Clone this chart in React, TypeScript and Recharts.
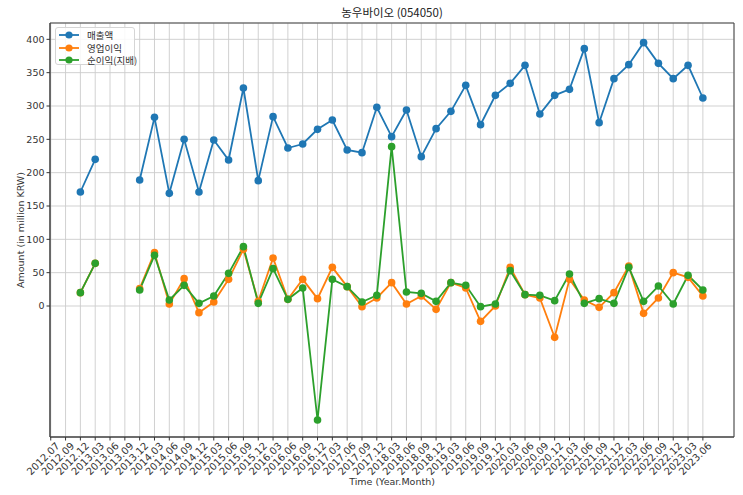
import React from "react";
import {
  LineChart,
  Line,
  XAxis,
  YAxis,
  CartesianGrid,
  ReferenceArea,
} from "recharts";

const categories = [
  "2012.07", "2012.09", "2012.12", "2013.03", "2013.06", "2013.09", "2013.12",
  "2014.03", "2014.06", "2014.09", "2014.12", "2015.03", "2015.06", "2015.09",
  "2015.12", "2016.03", "2016.06", "2016.09", "2016.12", "2017.03", "2017.06",
  "2017.09", "2017.12", "2018.03", "2018.06", "2018.09", "2018.12", "2019.03",
  "2019.06", "2019.09", "2019.12", "2020.03", "2020.06", "2020.09", "2020.12",
  "2021.03", "2021.06", "2021.09", "2021.12", "2022.03", "2022.06", "2022.09",
  "2022.12", "2023.03", "2023.06",
];

// 매출액
const revenue = [
  null, null, 171, 220, null, null, 189, 283, 169, 250, 171, 249, 219, 327, 188,
  284, 237, 243, 265, 279, 234, 230, 298, 254, 294, 224, 266, 292, 331, 272,
  316, 334, 361, 288, 316, 325, 386, 275, 341, 362, 395, 364, 341, 361, 312,
];

// 영업이익
const operatingProfit = [
  null, null, 20, 64, null, null, 26, 80, 3, 41, -10, 6, 40, 85, 7,
  72, 10, 40, 11, 58, 29, -1, 12, 35, 3, 15, -5, 35, 27, -23,
  0, 58, 17, 12, -47, 40, 9, -2, 20, 60, -11, 12, 50, 43, 15,
];

// 순이익(지배)
const netIncome = [
  null, null, 20, 64, null, null, 24, 76, 9, 31, 4, 15, 49, 89, 4,
  56, 10, 27, -171, 40, 29, 6, 16, 239, 21, 19, 7, 35, 31, -1,
  3, 53, 17, 16, 8, 48, 4, 11, 4, 58, 7, 30, 3, 46, 24,
];

const yTicks = [0, 50, 100, 150, 200, 250, 300, 350, 400];

const series = [
  { key: "revenue", name: "매출액", color: "#1f77b4" },
  { key: "operatingProfit", name: "영업이익", color: "#ff7f0e" },
  { key: "netIncome", name: "순이익(지배)", color: "#2ca02c" },
];

const data = categories.map((label, i) => ({
  idx: i,
  label,
  revenue: revenue[i],
  operatingProfit: operatingProfit[i],
  netIncome: netIncome[i],
}));

const X_MIN = -0.05;
const X_MAX = 46.1;
const Y_MIN = -196.5;
const Y_MAX = 424.5;

const tickFont = "'DejaVu Sans', sans-serif";
const koFont = "'Noto Sans CJK KR', 'DejaVu Sans', sans-serif";

const XTick = (props: any) => {
  const { x, y, payload } = props;
  return (
    <g transform={`translate(${x + 4.5},${y - 1})`}>
      <text
        x={0}
        y={0}
        dy="0.7em"
        textAnchor="end"
        transform="rotate(-45)"
        fontSize={10}
        fontFamily={tickFont}
        fill="#333"
      >
        {categories[payload.value]}
      </text>
    </g>
  );
};

const LegendBox = () => (
  <div
    style={{
      position: "absolute",
      left: 55,
      top: 27,
      width: 80,
      height: 38,
      background: "rgba(255,255,255,0.85)",
      border: "1px solid #d5d5d5",
      borderRadius: 3,
      boxSizing: "border-box",
      fontFamily: koFont,
      fontSize: 9.5,
      color: "#333",
    }}
  >
    {series.map((s, i) => (
      <div
        key={s.key}
        style={{
          position: "absolute",
          left: 2,
          top: 1 + i * 12.6,
          height: 12,
          display: "flex",
          alignItems: "center",
          whiteSpace: "nowrap",
        }}
      >
        <svg width={24} height={12} style={{ marginRight: 5 }}>
          <line x1={1} y1={6} x2={21} y2={6} stroke={s.color} strokeWidth={1.8} />
          <circle cx={11} cy={6} r={3.6} fill={s.color} />
        </svg>
        <span>{s.name}</span>
      </div>
    ))}
  </div>
);

export default function App() {
  return (
    <div style={{ position: "absolute", left: 0, top: 0, width: 743, height: 495, background: "#fff" }}>
      <div
        style={{
          position: "absolute",
          left: 50,
          width: 684,
          top: 4,
          textAlign: "center",
          fontFamily: koFont,
          fontSize: 11.5,
          color: "#222",
        }}
      >
        농우바이오 (054050)
      </div>
      <LineChart
        width={743}
        height={495}
        data={data}
        margin={{ top: 23, right: 9, left: 0, bottom: 0 }}
      >
        <CartesianGrid stroke="#cccccc" strokeWidth={0.9} />
        <XAxis
          type="number"
          dataKey="idx"
          domain={[X_MIN, X_MAX]}
          ticks={categories.map((_, i) => i)}
          interval={0}
          allowDataOverflow
          height={58}
          tick={<XTick />}
          tickSize={3.5}
          tickLine={{ stroke: "#333" }}
          axisLine={{ stroke: "#444" }}
        />
        <YAxis
          type="number"
          domain={[Y_MIN, Y_MAX]}
          ticks={yTicks}
          interval={0}
          allowDataOverflow
          width={50}
          tickSize={3.5}
          tickMargin={2}
          tickLine={{ stroke: "#333" }}
          axisLine={{ stroke: "#444" }}
          tick={{ fontSize: 9.5, fontFamily: tickFont, fill: "#333" }}
        />
        <ReferenceArea
          x1={X_MIN}
          x2={X_MAX}
          y1={Y_MIN}
          y2={Y_MAX}
          fill="none"
          fillOpacity={0}
          stroke="#444"
          strokeWidth={1}
          ifOverflow="extendDomain"
        />
        {series.map((s) => (
          <Line
            key={s.key}
            type="linear"
            dataKey={s.key}
            name={s.name}
            stroke={s.color}
            strokeWidth={1.8}
            dot={{ r: 3.8, fill: s.color, stroke: s.color, strokeWidth: 0 }}
            activeDot={false}
            isAnimationActive={false}
          />
        ))}
      </LineChart>
      <LegendBox />
      <div
        style={{
          position: "absolute",
          left: 50,
          width: 684,
          top: 476,
          textAlign: "center",
          fontFamily: tickFont,
          fontSize: 9.5,
          color: "#333",
        }}
      >
        Time (Year.Month)
      </div>
      <div
        style={{
          position: "absolute",
          left: 20,
          top: 230,
          transform: "translate(-50%, -50%) rotate(-90deg)",
          whiteSpace: "nowrap",
          fontFamily: tickFont,
          fontSize: 9.5,
          color: "#333",
        }}
      >
        Amount (in million KRW)
      </div>
    </div>
  );
}
